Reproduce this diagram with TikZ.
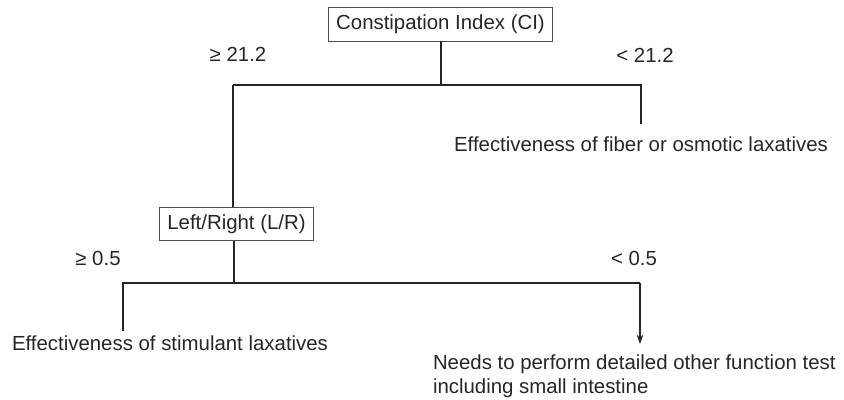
\documentclass[tikz,border=0pt]{standalone}
\usepackage{fontspec}
\setmainfont{Liberation Sans}
\usetikzlibrary{arrows.meta}

\begin{document}
\begin{tikzpicture}[x=0.75pt,y=-0.75pt,
  every node/.style={font=\fontsize{15.3}{17.5}\selectfont, text=black!85, inner sep=0pt, outer sep=0pt},
  crit/.style={draw=black!70, line width=0.6pt, inner xsep=6pt, minimum height=25pt},
  link/.style={line width=1.5pt, draw=black!85}]
\useasboundingbox (0,0) rectangle (844,400);

% first split
\node[crit] (ci) at (440.5,24.5) {Constipation Index (CI)};
\coordinate (ciJ) at (441,85);
\coordinate (ciL) at (233,85);
\coordinate (ciR) at (641,85);
\coordinate (ciEnd) at (641,124);
\node (ciHi) at (238,54) {≥ 21.2};
\node (ciLo) at (645,55) {< 21.2};
\node (fiber) at (641,144) {Effectiveness of fiber or osmotic laxatives};

% second split
\node[crit] (lr) at (236.5,224) {Left/Right (L/R)};
\coordinate (lrJ) at (234,283);
\coordinate (lrL) at (123,283);
\coordinate (lrR) at (640,283);
\coordinate (lrEnd) at (123,331);
\coordinate (lrArr) at (640,344);
\node (lrHi) at (98,258) {≥ 0.5};
\node (lrLo) at (634,258) {< 0.5};
\node (stim) at (170,343) {Effectiveness of stimulant laxatives};
\node[align=left, anchor=north west] (test) at (433,355) {Needs to perform detailed other function test\\including small intestine};

\draw[link] (ci.south -| ciJ) -- (ciJ);
\draw[link] (ciL) -- (ciR) -- (ciEnd);
\draw[link] (ciL) -- (ciL |- lr.north);
\draw[link] (lr.south -| lrJ) -- (lrJ);
\draw[link] (lrEnd) -- (lrL) -- (lrR);
\draw[link, -{Stealth[length=7pt, width=5pt]}] (lrR) -- (lrArr);
\end{tikzpicture}
\end{document}
